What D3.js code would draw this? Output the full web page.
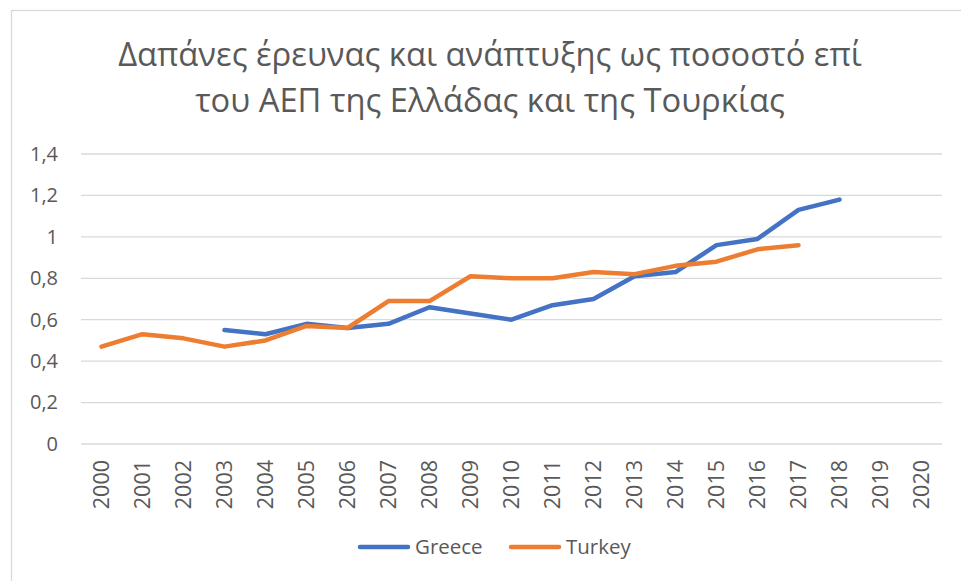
<!DOCTYPE html>
<html>
<head>
<meta charset="utf-8">
<script src="https://cdn.jsdelivr.net/npm/d3@7"></script>
<style>
  body { margin: 0; background: #fff; }
  text { font-family: "Open Sans", sans-serif; fill: #595959; }
</style>
</head>
<body>
<svg id="chart"></svg>
<script>
// R&D spending as % of GDP
var years = [2000, 2001, 2002, 2003, 2004, 2005, 2006, 2007, 2008, 2009, 2010,
             2011, 2012, 2013, 2014, 2015, 2016, 2017, 2018, 2019, 2020];
var greece = [null, null, null, 0.55, 0.53, 0.58, 0.56, 0.58, 0.66, 0.63, 0.60,
              0.67, 0.70, 0.81, 0.83, 0.96, 0.99, 1.13, 1.18, null, null];
var turkey = [0.47, 0.53, 0.51, 0.47, 0.50, 0.57, 0.56, 0.69, 0.69, 0.81, 0.80,
              0.80, 0.83, 0.82, 0.86, 0.88, 0.94, 0.96, null, null, null];
var yTicks = [0, 0.2, 0.4, 0.6, 0.8, 1, 1.2, 1.4];
var titleLines = ["Δαπάνες έρευνας και ανάπτυξης ως ποσοστό επί",
                  "του ΑΕΠ της Ελλάδας και της Τουρκίας"];

var width = 961, height = 581;
var margin = {top: 154, right: 19, bottom: 137, left: 81};

var svg = d3.select("#chart")
            .attr("width", width)
            .attr("height", height);

// chart area border (right/bottom edges fall outside the crop)
svg.append("rect")
   .attr("x", 11.5).attr("y", 10.5)
   .attr("width", 980).attr("height", 600)
   .attr("fill", "none")
   .attr("stroke", "#d9d9d9")
   .attr("stroke-width", 1.3);

var x = d3.scaleBand()
          .domain(years)
          .range([margin.left, width - margin.right]);

var y = d3.scaleLinear()
          .domain([0, 1.4])
          .range([height - margin.bottom, margin.top]);

var locale = d3.formatLocale({decimal: ",", thousands: ".", grouping: [3], currency: ["", "€"]});
var fmt = locale.format(".1~f");

// title
var title = svg.append("g").attr("class", "title");
title.selectAll("text")
     .data(titleLines)
     .enter().append("text")
     .attr("x", 490)
     .attr("y", (d, i) => 66 + i * 46)
     .attr("text-anchor", "middle")
     .style("font-weight", 400)
     .style("font-size", "28px")
     .text(d => d);
// fit first line to the reference width
var w0 = title.select("text").node().getComputedTextLength();
title.selectAll("text").style("font-size", (28 * 744 / w0) + "px");

// gridlines
svg.append("g")
   .attr("class", "grid")
   .selectAll("line")
   .data(yTicks)
   .enter().append("line")
   .attr("x1", margin.left)
   .attr("x2", width - margin.right)
   .attr("y1", d => y(d))
   .attr("y2", d => y(d))
   .attr("stroke", "#d9d9d9")
   .attr("stroke-width", 1.3);

// y axis labels
var yAxis = svg.append("g")
   .attr("transform", `translate(${margin.left},0)`)
   .call(d3.axisLeft(y).tickValues(yTicks).tickFormat(fmt).tickSize(0).tickPadding(23));
yAxis.select(".domain").remove();
yAxis.selectAll("text").style("font-size", "20px").attr("fill", "#595959");

// x axis labels
var xAxis = svg.append("g")
   .attr("transform", `translate(0,${height - margin.bottom})`)
   .call(d3.axisBottom(x).tickSize(0).tickSizeOuter(0));
xAxis.select(".domain").remove();
xAxis.selectAll("text")
     .style("font-size", "21.5px")
     .attr("fill", "#595959")
     .attr("text-anchor", "end")
     .attr("transform", "rotate(-90)")
     .attr("x", -16)
     .attr("y", 0)
     .attr("dy", "0.35em");

// lines
var line = d3.line()
             .defined(d => d != null)
             .x((d, i) => x(years[i]) + x.bandwidth() / 2)
             .y(d => y(d));

var series = [
  {name: "Greece", values: greece, color: "#4472C4"},
  {name: "Turkey", values: turkey, color: "#ED7D31"}
];

svg.selectAll(".series")
   .data(series)
   .enter().append("path")
   .attr("class", "series")
   .attr("d", d => line(d.values))
   .attr("fill", "none")
   .attr("stroke", d => d.color)
   .attr("stroke-width", 4.5)
   .attr("stroke-linecap", "round")
   .attr("stroke-linejoin", "round");

// legend
var legend = svg.append("g").attr("class", "legend");
var lx = [358, 509];
series.forEach(function(s, i) {
  var g = legend.append("g").attr("transform", `translate(${lx[i]},547)`);
  g.append("line")
   .attr("x1", 2).attr("x2", 50)
   .attr("stroke", s.color)
   .attr("stroke-width", 4.5)
   .attr("stroke-linecap", "round");
  g.append("text")
   .attr("x", 57)
   .attr("dy", "0.35em")
   .style("font-size", "20.5px")
   .text(s.name);
});
</script>
</body>
</html>
